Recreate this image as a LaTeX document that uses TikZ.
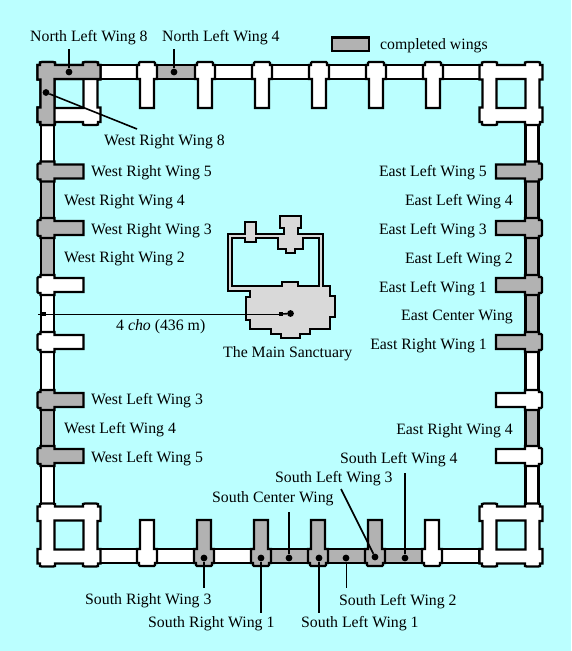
\documentclass[tikz,border=0pt]{standalone}
\usepackage{fontspec}
\setmainfont{Liberation Serif}
\definecolor{bgc}{HTML}{BBFFFF}
\definecolor{wingc}{HTML}{B2B2B2}
\definecolor{sanc}{HTML}{D9D9D9}
\tikzset{
  wallw/.style={draw=black,fill=white,line width=2.3pt,line join=miter},
  wallg/.style={draw=black,fill=wingc,line width=2.3pt,line join=miter},
  lbl/.style={inner sep=0pt,font=\fontsize{15.8}{18}\selectfont,text=black},
  dotn/.style={circle,fill=black,inner sep=0pt,minimum size=6.8pt},
  conn/.style={draw=black,line width=1.6pt},
  connthin/.style={draw=black,line width=1pt}
}
% T-shaped wing: style, cx, cy, rotation
\newcommand{\Twing}[4]{%
  \path[#1,shift={(#2,#3)},rotate=#4]
    (-7,36)--(-7,7)--(-10,7)--(-10,-7)--(-8,-7)--(-8,-9)--(-7,-10)--(7,-10)--(8,-9)--(8,-7)--(10,-7)--(10,7)--(7,7)--(7,36)--cycle;}
% corner ring
\newcommand{\Ring}[3]{%
  \path[#1,even odd rule,shift={(#2,#3)}]
    (-31.5,-14)--(-31.5,-28.5)--(-29,-28.5)--(-29,-31)--(-27,-31.5)--(-16,-31.5)--(-14,-31)--(-14,-28.5)
    --(14,-28.5)--(14,-31)--(16,-31.5)--(27,-31.5)--(29,-31)--(29,-28.5)--(31.5,-28.5)--(31.5,-14)--(28.5,-14)
    --(28.5,14)--(31.5,14)--(31.5,28.5)--(29,28.5)--(29,31)--(27,31.5)--(16,31.5)--(14,31)--(14,28.5)
    --(-14,28.5)--(-14,31)--(-16,31.5)--(-27,31.5)--(-29,31)--(-29,28.5)--(-31.5,28.5)--(-31.5,14)--(-28.5,14)
    --(-28.5,-14)--cycle
    (-14.5,-14.5) rectangle (14.5,14.5);}
\newcommand{\HSeg}[4]{\path[#1] (#2,#3-7) rectangle (#4,#3+7);}
\newcommand{\VSeg}[4]{\path[#1] (#2-6.5,#3) rectangle (#2+6.5,#4);}
\begin{document}
\begin{tikzpicture}[x=1pt,y=-1pt]
\useasboundingbox (0,0) rectangle (571,651);
\fill[bgc] (0,0) rectangle (571,651);

% top wall segments
\HSeg{wallw}{100}{72}{137}
\HSeg{wallg}{157}{72}{195}
\HSeg{wallw}{215}{72}{252}
\HSeg{wallw}{272}{72}{309}
\HSeg{wallw}{329}{72}{366}
\HSeg{wallw}{386}{72}{423}
\HSeg{wallw}{443}{72}{480}
% bottom wall segments
\HSeg{wallw}{100}{556}{137}
\HSeg{wallw}{157}{556}{194}
\HSeg{wallw}{214}{556}{251}
\HSeg{wallg}{271}{556}{308}
\HSeg{wallg}{328}{556}{365}
\HSeg{wallg}{385}{556}{422}
\HSeg{wallw}{442}{556}{479}
% left wall segments
\VSeg{wallw}{47.5}{125}{164}
\VSeg{wallg}{47.5}{179}{220}
\VSeg{wallg}{47.5}{236}{278}
\VSeg{wallw}{47.5}{293}{336}
\VSeg{wallw}{47.5}{349}{393}
\VSeg{wallg}{47.5}{407}{449}
\VSeg{wallw}{47.5}{463}{505}
% right wall segments
\VSeg{wallw}{532}{125}{164}
\VSeg{wallg}{532}{179}{220}
\VSeg{wallg}{532}{236}{278}
\VSeg{wallg}{532}{293}{336}
\VSeg{wallw}{532}{349}{393}
\VSeg{wallg}{532}{407}{449}
\VSeg{wallw}{532}{463}{505}

% top wings
\foreach \c in {147,205,262,319,376,433} {\Twing{wallw}{\c}{72}{0}}
% bottom wings
\Twing{wallw}{147}{556}{180}
\Twing{wallg}{204}{556}{180}
\Twing{wallg}{261}{556}{180}
\Twing{wallg}{318}{556}{180}
\Twing{wallg}{375}{556}{180}
\Twing{wallw}{432}{556}{180}
% left wings
\Twing{wallg}{47.5}{171.5}{90}
\Twing{wallg}{47.5}{228}{90}
\Twing{wallw}{47.5}{285}{90}
\Twing{wallw}{47.5}{342}{90}
\Twing{wallg}{47.5}{400}{90}
\Twing{wallg}{47.5}{456}{90}
% right wings
\Twing{wallg}{532}{171.5}{-90}
\Twing{wallg}{532}{228}{-90}
\Twing{wallg}{532}{285}{-90}
\Twing{wallg}{532}{342}{-90}
\Twing{wallw}{532}{400}{-90}
\Twing{wallw}{532}{456}{-90}

% corners
\Ring{wallw}{69}{93.5}
\Ring{wallw}{511}{93.5}
\Ring{wallw}{69}{535}
\Ring{wallw}{511}{535}
% completed part of the north-west corner
\path[wallg,shift={(69,93.5)}]
  (-31.5,-28.5)--(-29,-28.5)--(-29,-31)--(-27,-31.5)--(-16,-31.5)--(-14,-31)--(-14,-28.5)
  --(14,-28.5)--(14,-31)--(16,-31.5)--(27,-31.5)--(29,-31)--(29,-28.5)--(31.5,-28.5)--(31.5,-14.5)
  --(-14.5,-14.5)--(-14.5,31.5)--(-28.5,31.5)--(-28.5,28.5)--(-31.5,28.5)--(-31.5,14)--(-28.5,14)--(-28.5,-14)--(-31.5,-14)--cycle;

% legend
\path[wallg] (332,37.5) rectangle (369,51);
\node[lbl,anchor=base west] (legend) at (380,49.5) {completed wings};

% sanctuary
\begin{scope}[shift={(200,200)},x=0.3333pt,y=-0.3333pt]
\path[draw=black,fill=sanc,line width=2pt,even odd rule]
  (83,103)--(135,103)--(135,67)--(167,67)--(167,103)--(252,103)--(252,83)--(240,83)--(240,48)--(303,48)--(303,83)--(293,83)--(293,103)--(369,103)--(369,258)--(390,258)--(390,288)--(405,288)--(405,350)--(390,350)--(390,388)--(330,388)--(330,403)--(300,403)--(300,415)--(242,415)--(242,403)--(213,403)--(213,388)--(150,388)--(150,360)--(138,360)--(138,290)--(150,290)--(150,272)--(83,272)--cycle
  (97,115)--(135,115)--(135,125)--(167,125)--(167,115)--(235,115)--(235,147)--(257,147)--(257,160)--(285,160)--(285,147)--(308,147)--(308,115)--(357,115)--(357,258)--(295,258)--(295,245)--(245,245)--(245,258)--(97,258)--cycle;
\end{scope}

% labels
\node[lbl,anchor=base west] (nl8) at (30,41.5) {North Left Wing 8};
\node[lbl,anchor=base west] (nl4) at (162,41.5) {North Left Wing 4};
\node[lbl,anchor=base west] (wr8) at (104,145.5) {West Right Wing 8};
\node[lbl,anchor=base west] (wr5) at (91,176.5) {West Right Wing 5};
\node[lbl,anchor=base west] (wr4) at (64,205.5) {West Right Wing 4};
\node[lbl,anchor=base west] (wr3) at (91,234.5) {West Right Wing 3};
\node[lbl,anchor=base west] (wr2) at (64,262.5) {West Right Wing 2};
\node[lbl,anchor=base west] (cho) at (116,330.5) {4 \textit{cho} (436 m)};
\node[lbl,anchor=base west] (main) at (223,357.5) {The Main Sanctuary};
\node[lbl,anchor=base west] (wl3) at (91,404.5) {West Left Wing 3};
\node[lbl,anchor=base west] (wl4) at (64,433.5) {West Left Wing 4};
\node[lbl,anchor=base west] (wl5) at (91,462.5) {West Left Wing 5};
\node[lbl,anchor=base east] (el5) at (487,176.5) {East Left Wing 5};
\node[lbl,anchor=base east] (el4) at (513,205.5) {East Left Wing 4};
\node[lbl,anchor=base east] (el3) at (487,234.5) {East Left Wing 3};
\node[lbl,anchor=base east] (el2) at (513,263.5) {East Left Wing 2};
\node[lbl,anchor=base east] (el1) at (487,292.5) {East Left Wing 1};
\node[lbl,anchor=base east] (ecw) at (513,320.5) {East Center Wing};
\node[lbl,anchor=base east] (er1) at (487,349.5) {East Right Wing 1};
\node[lbl,anchor=base east] (er4) at (513,434.5) {East Right Wing 4};
\node[lbl,anchor=base west] (sl4) at (340,463.5) {South Left Wing 4};
\node[lbl,anchor=base west] (sl3) at (275,482.5) {South Left Wing 3};
\node[lbl,anchor=base west] (scw) at (212,502.5) {South Center Wing};
\node[lbl,anchor=base west] (sr3) at (85,604.5) {South Right Wing 3};
\node[lbl,anchor=base west] (sl2) at (339,605.5) {South Left Wing 2};
\node[lbl,anchor=base west] (sr1) at (148,627.5) {South Right Wing 1};
\node[lbl,anchor=base west] (sl1) at (301,627.5) {South Left Wing 1};

% dots
\node[dotn] (dnl8) at (69,72) {};
\node[dotn] (dnl4) at (174,72) {};
\node[dotn] (dwr8) at (46,92.5) {};
\node[dotn] (dsr3) at (204,558) {};
\node[dotn] (dsr1) at (261,558) {};
\node[dotn] (dscw) at (289,558) {};
\node[dotn] (dsl1) at (319,558) {};
\node[dotn] (dsl2) at (346,558) {};
\node[dotn] (dsl3) at (375,557) {};
\node[dotn] (dsl4) at (405,558) {};
\node[dotn] (dmain) at (290.5,313.5) {};
\node[fill=black,inner sep=0pt,minimum size=4pt] (smain) at (281,314) {};
\node[fill=black,inner sep=0pt,minimum width=6pt,minimum height=4pt] (swall) at (43,314) {};

% free ends of the connectors
\coordinate (enl8) at (69,49);
\coordinate (enl4) at (174,49);
\coordinate (ewr8) at (137,129);
\coordinate (esr3) at (204,588);
\coordinate (esr1) at (261,613);
\coordinate (escw) at (289,512);
\coordinate (esl1) at (319,613);
\coordinate (esl2) at (346,588);
\coordinate (esl3) at (341,489);
\coordinate (esl4) at (405,473);
\coordinate (ewall) at (38,314);

% connectors
\draw[conn] (dnl8) -- (enl8);
\draw[conn] (dnl4) -- (enl4);
\draw[conn] (dwr8) -- (ewr8);
\draw[conn] (dsr3) -- (esr3);
\draw[conn] (dsr1) -- (esr1);
\draw[conn] (dscw) -- (escw);
\draw[conn] (dsl1) -- (esl1);
\draw[connthin] (dsl2) -- (esl2);
\draw[conn] (dsl3) -- (esl3);
\draw[conn] (dsl4) -- (esl4);
\draw[connthin] (ewall) -- (swall) -- (smain);
\draw[conn] (smain) -- (dmain);
\end{tikzpicture}
\end{document}
